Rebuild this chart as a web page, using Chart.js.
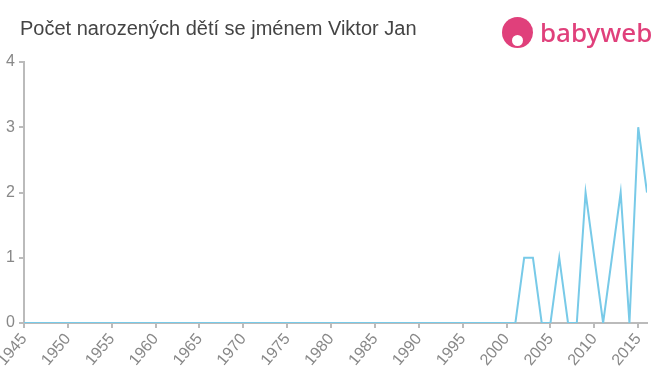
<!DOCTYPE html>
<html>
<head>
<meta charset="utf-8">
<script src="https://cdn.jsdelivr.net/npm/chart.js@4"></script>
<style>
  body { margin: 0; background: #fff; font-family: "Liberation Sans", Arial, sans-serif; }
  #wrap { position: relative; width: 660px; height: 375px; }
  #title { position: absolute; left: 20px; top: 17px; font-size: 20px; color: #444; }
  #logo { position: absolute; left: 502px; top: 14px; height: 36px; display: flex; align-items: center; color: #e0407b; font-family: "Noto Sans", sans-serif; font-size: 26px; font-weight: 500; }
  #logo .dot { width: 31px; height: 31px; border-radius: 50%; background: #e0407b; margin-right: 7px; position: relative; }
  #logo .dot::after { content: ""; position: absolute; left: 10px; top: 18px; width: 11px; height: 11px; border-radius: 50%; background: #fff; }
</style>
</head>
<body>
<div id="wrap">
  <canvas id="chart" width="660" height="375"></canvas>
  <div id="title">Počet narozených dětí se jménem Viktor Jan</div>
  <div id="logo"><span class="dot"></span>babyweb</div>
</div>
<script>
const years = [];
for (let y = 1945; y <= 2016; y++) years.push(y);
// births per year, 1945..2000 all zero
const counts1945to2000 = new Array(56).fill(0);
const counts2001to2016 = [0, 1, 1, 0, 0, 1, 0, 0, 2, 1, 0, 1, 2, 0, 3, 2];
const counts = counts1945to2000.concat(counts2001to2016);
const yTicks = [0, 1, 2, 3, 4];

const ctx = document.getElementById("chart").getContext("2d");
const myChart = new Chart(ctx, {
  type: "line",
  data: {
    datasets: [
      {
        data: years.map((y, i) => ({ x: y, y: counts[i] })),
        borderColor: "rgb(120, 202, 232)",
        borderWidth: 2,
        pointRadius: 0,
        tension: 0,
        fill: false,
      },
    ],
  },
  options: {
    responsive: false,
    animation: false,
    layout: { padding: { top: 62, right: 13, left: 0, bottom: 0 } },
    plugins: { legend: { display: false }, tooltip: { enabled: false } },
    scales: {
      x: {
        type: "linear",
        min: 1945,
        max: 2016,
        afterFit: (s) => { s.height = 52; s.paddingLeft = 0; s.paddingRight = 0; },
        afterBuildTicks: (s) => {
          s.ticks = [];
          for (let y = 1945; y <= 2015; y += 5) s.ticks.push({ value: y });
        },
        ticks: {
          color: "#888",
          font: { family: "Liberation Sans", size: 16 },
          minRotation: 50,
          maxRotation: 50,
          autoSkip: false,
          padding: 2,
          callback: (v) => String(v),
        },
        grid: { drawOnChartArea: false, drawTicks: true, tickLength: 5, color: "#bbb", lineWidth: 2 },
        border: { color: "#bbb", width: 2 },
      },
      y: {
        min: 0,
        max: 4,
        afterFit: (s) => { s.width = 24; s.paddingTop = 0; s.paddingBottom = 0; },
        afterBuildTicks: (s) => { s.ticks = yTicks.map((v) => ({ value: v })); },
        ticks: {
          color: "#888",
          font: { family: "Liberation Sans", size: 16 },
          padding: 4,
        },
        grid: { drawOnChartArea: false, drawTicks: true, tickLength: 5, color: "#bbb", lineWidth: 2 },
        border: { color: "#bbb", width: 2 },
      },
    },
  },
});
</script>
</body>
</html>
